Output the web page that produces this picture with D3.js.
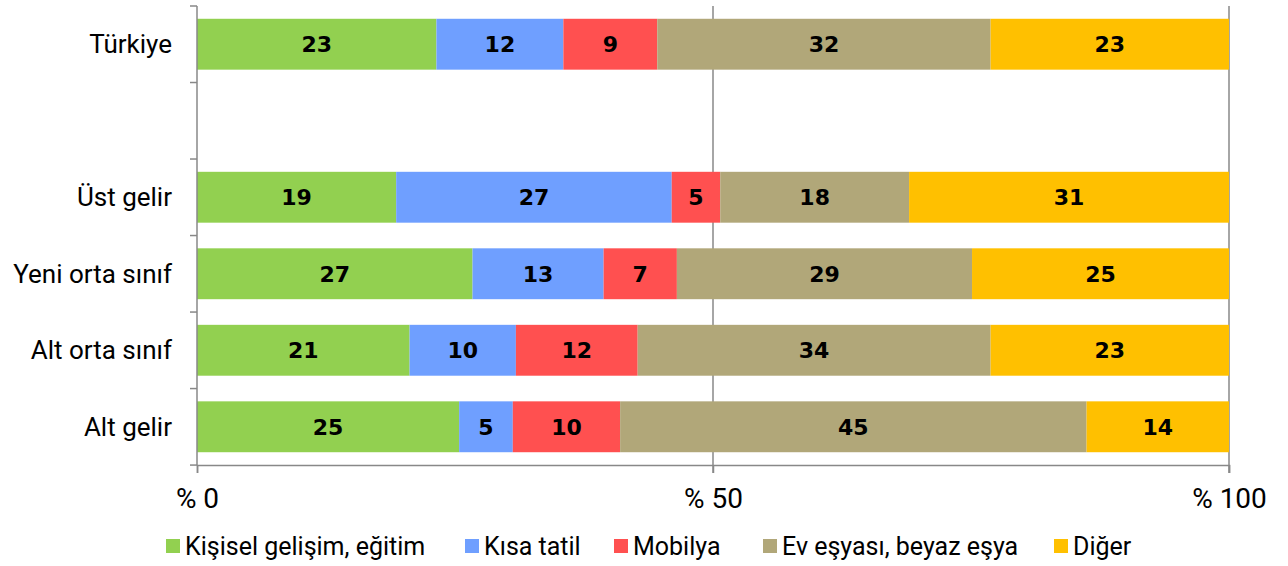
<!DOCTYPE html>
<html>
<head>
<meta charset="utf-8">
<script src="https://cdn.jsdelivr.net/npm/d3@7"></script>
<style>
  body { margin: 0; background: #fff; }
  text { font-family: Roboto, "Open Sans", Arial, sans-serif; }
</style>
</head>
<body>
<div id="chart"></div>
<script>
(function () {
  "use strict";

  // bands from top to bottom ("" is the empty gap row)
  var categories = ["Türkiye", "", "Üst gelir", "Yeni orta sınıf", "Alt orta sınıf", "Alt gelir"];
  var seriesNames = ["Kişisel gelişim, eğitim", "Kısa tatil", "Mobilya", "Ev eşyası, beyaz eşya", "Diğer"];
  var kisisel = [23.2, null, 19.3, 26.7, 20.6, 25.4];
  var kisa = [12.3, null, 26.7, 12.7, 10.3, 5.2];
  var mobilya = [9.1, null, 4.7, 7.1, 11.8, 10.4];
  var evEsyasi = [32.3, null, 18.3, 28.6, 34.2, 45.2];
  var diger = [23.1, null, 31.0, 24.9, 23.1, 13.8];
  var ticks = [0, 50, 100];

  var colors = d3.scaleOrdinal(seriesNames, ["#92d050", "#6f9fff", "#ff5050", "#b1a779", "#ffc000"]);

  var w = 1288, h = 566,
    left = 197, right = 1229, top = 6, bottom = 465;

  var rows = categories.map(function (c, i) {
    return { cat: c, vals: [kisisel[i], kisa[i], mobilya[i], evEsyasi[i], diger[i]] };
  });

  var x = d3.scaleLinear().domain([0, 100]).range([left, right]);
  var y = d3.scaleBand().domain(d3.range(categories.length)).range([top, bottom]).paddingInner(0.335).paddingOuter(0.167);

  var svg = d3.select("#chart").append("svg").attr("width", w).attr("height", h);

  // gridlines at 50 and 100
  svg.selectAll(".grid").data(ticks.slice(1)).enter().append("line")
    .attr("x1", function (d) { return x(d); }).attr("x2", function (d) { return x(d); })
    .attr("y1", top).attr("y2", bottom + 8)
    .style("stroke", "#888").style("stroke-width", 1.5);

  // bars
  var segs = [];
  rows.forEach(function (r, i) {
    if (r.vals[0] == null) return;
    var acc = 0;
    r.vals.forEach(function (v, k) {
      segs.push({ row: i, name: seriesNames[k], x0: acc, x1: acc + v, v: v });
      acc += v;
    });
  });

  svg.selectAll(".bar").data(segs).enter().append("rect")
    .attr("class", "bar")
    .attr("x", function (d) { return x(d.x0); })
    .attr("width", function (d) { return x(d.x1) - x(d.x0); })
    .attr("y", function (d) { return y(d.row); })
    .attr("height", y.bandwidth())
    .attr("fill", function (d) { return colors(d.name); });

  svg.selectAll(".lbl").data(segs).enter().append("text")
    .attr("x", function (d) { return (x(d.x0) + x(d.x1)) / 2; })
    .attr("y", function (d) { return y(d.row) + y.bandwidth() / 2; })
    .attr("text-anchor", "middle").attr("dy", "0.36em")
    .style("font-family", "'DejaVu Sans', sans-serif")
    .style("font-weight", "900").style("font-size", "22px").style("fill", "#000")
    .text(function (d) { return Math.round(d.v); });

  // left axis with ticks between bands
  var yEdges = d3.range(categories.length + 1).map(function (i) {
    return top + i * y.step();
  });
  svg.append("line").attr("x1", left).attr("x2", left).attr("y1", top).attr("y2", bottom)
    .style("stroke", "#888").style("stroke-width", 1.5);
  svg.selectAll(".ytick").data(yEdges).enter().append("line")
    .attr("x1", left - 7).attr("x2", left).attr("y1", function (d) { return d; }).attr("y2", function (d) { return d; })
    .style("stroke", "#888").style("stroke-width", 1.5);
  svg.selectAll(".ylab").data(categories).enter().append("text")
    .attr("x", 172)
    .attr("y", function (d, i) { return y(i) + y.bandwidth() / 2; })
    .attr("dy", "0.35em").attr("text-anchor", "end")
    .style("font-size", "26px").style("fill", "#000")
    .text(function (d) { return d; });

  // bottom axis
  var xAxis = svg.append("g").attr("transform", "translate(0," + bottom + ")")
    .call(d3.axisBottom(x).tickValues(ticks).tickSize(8).tickFormat(function (d) { return "% " + d; }));
  xAxis.select(".domain").style("stroke", "#888").style("stroke-width", 1.5);
  xAxis.selectAll(".tick line").style("stroke", "#888").style("stroke-width", 1.5);
  xAxis.selectAll(".tick text").attr("y", 23)
    .style("font-family", "Roboto, 'Open Sans', sans-serif")
    .style("font-size", "28px").style("fill", "#000");

  // legend
  var legendX = [166, 465, 614, 763, 1054];
  var lg = svg.selectAll(".leg").data(seriesNames).enter().append("g")
    .attr("transform", function (d, i) { return "translate(" + legendX[i] + ",546)"; });
  lg.append("rect").attr("x", 0).attr("y", -7).attr("width", 14).attr("height", 14)
    .attr("fill", function (d) { return colors(d); });
  lg.append("text").attr("x", 19).attr("dy", "0.35em")
    .style("font-size", "25px").style("fill", "#000")
    .text(function (d) { return d; });
})();
</script>
</body>
</html>
